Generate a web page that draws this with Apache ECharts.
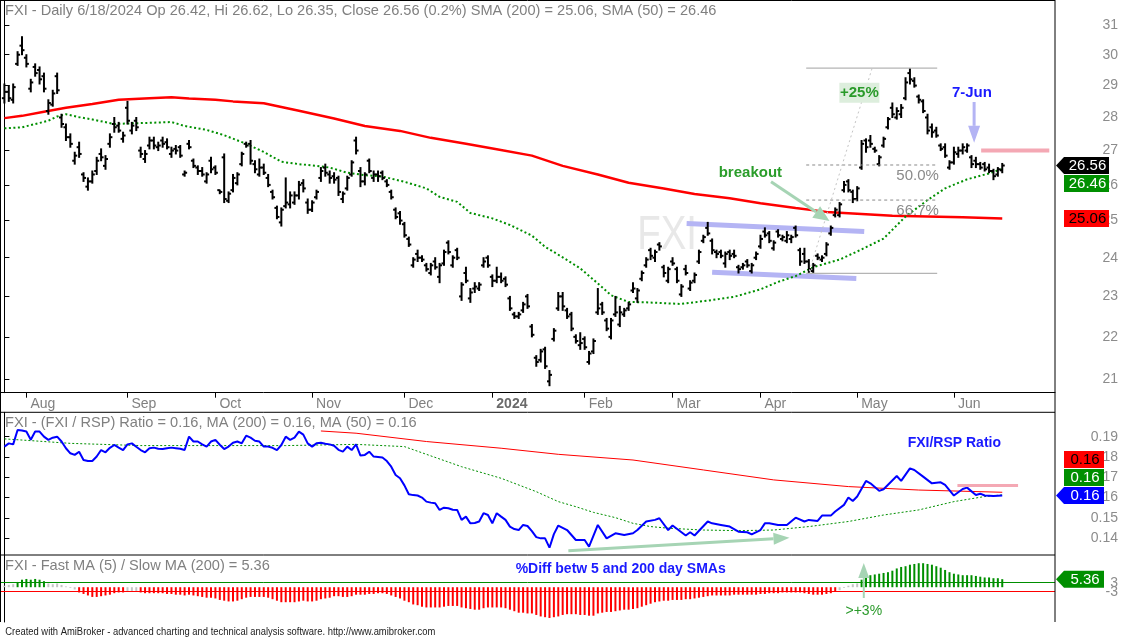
<!DOCTYPE html>
<html><head><meta charset="utf-8">
<script src="https://cdn.jsdelivr.net/npm/echarts@6/dist/echarts.min.js"></script>
<style>html,body{margin:0;padding:0;background:#fff}#c{width:1123px;height:637px}</style>
</head><body><div id="c"></div>
<script>
// ---------- DATA ----------
const monthTickIdx = [5,28,48,70,91,111,132,152,172,194,216];
const monthLabels  = ['Aug','Sep','Oct','Nov','Dec','2024','Feb','Mar','Apr','May','Jun'];
const priceTicks = [21,22,23,24,25,26,27,28,29,30,31];
const ratioTicks = [0.14,0.15,0.16,0.17,0.18,0.19];
const diffTicks  = [-3,0,3];

const highs = [29.05,29.0,29.05,30.1,30.6,30.0,29.2,29.7,29.6,29.4,
28.55,28.85,29.4,28.1,27.8,27.5,26.95,27.25,26.35,26.2,
26.4,26.8,27.05,26.85,27.5,28.0,27.85,27.55,28.5,27.85,
28.0,27.1,27.0,27.4,27.4,27.25,27.4,27.35,27.1,27.15,
27.15,26.4,27.3,26.75,26.55,26.5,26.35,26.8,26.55,25.85,
26.9,25.8,26.3,26.35,26.95,27.25,27.3,26.7,26.75,26.6,
26.3,25.85,25.4,25.35,26.2,25.8,25.8,26.1,26.15,25.6,
25.55,25.85,26.5,26.6,26.4,26.35,26.25,25.8,26.25,26.7,
27.4,26.5,26.35,26.75,26.4,26.4,26.4,26.15,25.85,25.35,
25.25,24.95,24.55,24.0,24.2,24.05,23.85,23.85,24.0,23.85,
24.2,24.45,24.05,24.25,23.35,23.75,23.2,23.35,23.35,24.0,
24.05,23.55,23.75,23.6,23.5,23.0,22.6,22.6,22.85,23.05,
22.3,21.55,21.7,21.75,21.2,22.2,23.1,23.1,22.7,22.6,
22.05,22.1,22.0,21.65,21.95,23.2,22.85,22.45,22.45,23.0,
22.75,22.7,22.85,23.35,23.2,23.65,24.0,24.25,24.2,24.4,
23.8,23.75,24.0,23.75,23.3,23.8,23.4,23.6,24.2,24.6,
24.95,24.5,24.2,24.2,24.15,24.2,24.2,23.8,23.85,23.95,
23.85,24.15,24.6,24.8,24.7,24.45,24.75,24.6,24.7,24.6,
24.85,24.25,24.25,23.95,23.85,24.1,24.05,24.4,24.85,25.35,
25.5,26.1,26.15,25.85,25.95,27.3,27.35,27.45,27.1,26.85,
27.4,28.0,28.45,28.3,28.4,29.25,29.55,29.25,28.7,28.55,
28.1,27.8,27.7,27.2,27.2,26.7,27.1,27.1,27.2,27.2,
26.85,26.8,26.65,26.65,26.6,26.45,26.5,26.62];
const lows = [28.45,28.5,28.45,29.65,30.0,29.6,28.8,29.3,29.05,28.8,
28.1,28.35,28.75,27.7,27.3,27.1,26.6,26.8,26.1,25.85,
26.05,26.3,26.7,26.45,27.1,27.55,27.55,27.25,27.8,27.5,
27.6,26.8,26.65,27.05,27.05,27.0,27.1,27.05,26.8,26.9,
26.8,26.25,27.05,26.5,26.3,26.25,26.05,26.35,26.3,25.75,
25.5,25.5,25.8,26.0,26.55,27.1,26.6,26.35,26.25,26.3,
25.95,25.6,25.05,24.85,25.35,25.35,25.45,25.6,25.8,25.2,
25.25,25.6,26.1,26.25,26.05,26.05,25.7,25.5,25.85,26.25,
26.9,25.95,26.0,26.35,26.1,26.1,26.15,25.95,25.6,25.05,
24.9,24.55,24.3,23.75,23.9,23.9,23.65,23.55,23.7,23.35,
23.8,24.1,23.75,23.95,22.9,23.35,22.85,23.1,23.15,23.75,
23.75,23.25,23.35,23.35,23.25,22.65,22.45,22.45,22.6,22.7,
22.0,21.3,21.4,21.25,20.85,21.9,22.65,22.65,22.45,22.15,
21.85,21.7,21.7,21.35,21.6,22.55,22.55,22.15,21.95,22.5,
22.25,22.5,22.65,23.1,22.85,23.4,23.75,23.95,23.9,24.2,
23.5,23.35,23.8,23.35,23.0,23.55,23.15,23.35,23.85,24.4,
24.6,24.1,24.0,24.0,23.75,23.95,24.0,23.6,23.7,23.75,
23.6,23.95,24.25,24.55,24.4,24.2,24.55,24.45,24.4,24.4,
24.55,23.8,23.85,23.6,23.6,23.95,23.9,24.05,24.6,25.1,
25.1,25.8,25.8,25.5,25.55,26.45,26.95,27.1,26.95,26.55,
27.1,27.65,28.0,27.95,28.0,28.55,29.05,28.95,28.45,28.15,
27.5,27.4,27.4,27.0,26.8,26.45,26.6,26.8,26.9,26.95,
26.5,26.5,26.45,26.4,26.35,26.15,26.25,26.35];
const opens = [28.6,28.8,28.55,29.7,30.3,29.9,28.9,29.6,29.5,29.3,
28.2,28.4,29.3,28.0,27.7,27.4,26.7,27.1,26.3,25.95,
26.1,26.4,26.9,26.55,27.2,27.8,27.75,27.35,28.3,27.6,
27.9,27.0,26.75,27.15,27.3,27.1,27.3,27.25,26.9,27.05,
27.1,26.3,27.2,26.7,26.5,26.4,26.1,26.7,26.5,25.85,
26.8,25.55,25.85,26.05,26.6,27.2,27.2,26.6,26.3,26.5,
26.2,25.8,25.35,24.95,25.4,25.45,25.5,25.7,26.05,25.5,
25.3,25.65,26.2,26.5,26.3,26.25,26.2,25.6,25.9,26.3,
27.3,26.4,26.1,26.7,26.2,26.3,26.35,26.1,25.8,25.3,
25.2,24.9,24.5,23.8,24.1,24.0,23.8,23.6,23.9,23.5,
23.85,24.4,23.8,24.2,23.0,23.6,22.95,23.2,23.2,23.8,
24.0,23.5,23.4,23.5,23.45,22.95,22.55,22.5,22.65,23.0,
22.25,21.5,21.45,21.7,20.95,21.95,22.7,23.0,22.65,22.55,
22.0,21.8,21.95,21.4,21.65,22.6,22.8,22.4,22.0,22.55,
22.3,22.55,22.7,23.15,22.95,23.45,23.8,24.2,24.0,24.35,
23.75,23.4,23.9,23.7,23.05,23.7,23.2,23.4,23.9,24.45,
24.8,24.45,24.15,24.15,23.85,24.15,24.1,23.75,23.75,23.9,
23.65,24.0,24.3,24.7,24.65,24.25,24.7,24.5,24.45,24.5,
24.8,24.2,24.1,23.9,23.65,24.05,23.95,24.1,24.65,25.15,
25.15,25.85,26.1,25.8,25.6,26.5,27.3,27.3,27.05,26.6,
27.15,27.7,28.3,28.0,28.1,28.6,29.4,29.15,28.65,28.5,
28.0,27.7,27.6,27.15,27.1,26.5,26.65,26.9,27.0,27.0,
26.8,26.7,26.6,26.6,26.5,26.4,26.3,26.42];
const closes = [28.8,28.6,28.95,30.0,30.15,29.7,29.1,29.4,29.2,28.9,
28.45,28.75,28.85,27.8,27.4,27.2,26.85,26.9,26.2,26.1,
26.3,26.7,26.8,26.75,27.4,27.7,27.6,27.45,27.9,27.75,
27.7,26.9,26.9,27.3,27.15,27.15,27.2,27.1,27.0,27.0,
26.85,26.35,27.1,26.55,26.4,26.3,26.3,26.45,26.35,25.8,
25.6,25.75,26.2,26.3,26.9,27.15,26.7,26.45,26.5,26.35,
26.0,25.65,25.1,25.3,25.5,25.7,25.7,26.0,25.9,25.3,
25.5,25.8,26.4,26.35,26.2,26.15,25.8,25.75,26.2,26.65,
27.0,26.1,26.3,26.4,26.3,26.25,26.2,26.0,25.65,25.1,
25.0,24.6,24.35,23.95,24.0,23.95,23.7,23.8,23.75,23.8,
24.15,24.15,24.0,24.0,23.3,23.4,23.1,23.25,23.3,23.9,
23.8,23.4,23.5,23.4,23.3,22.7,22.5,22.55,22.8,22.75,
22.05,21.4,21.65,21.3,21.1,22.15,23.0,22.75,22.5,22.2,
21.9,21.85,21.75,21.6,21.9,22.7,22.6,22.2,22.4,22.6,
22.6,22.65,22.8,23.2,23.15,23.6,23.95,24.05,24.15,24.3,
23.6,23.7,23.85,23.4,23.25,23.6,23.35,23.55,24.15,24.55,
24.65,24.2,24.1,24.05,24.1,24.05,24.05,23.7,23.8,23.8,
23.8,24.1,24.5,24.6,24.45,24.4,24.6,24.55,24.6,24.55,
24.6,23.9,23.9,23.7,23.8,24.0,24.0,24.35,24.8,25.3,
25.45,26.0,25.85,25.6,25.9,27.2,27.1,27.2,27.0,26.8,
27.35,27.95,28.1,28.2,28.3,29.1,29.2,29.0,28.55,28.2,
27.6,27.55,27.45,27.05,26.85,26.65,26.95,27.0,27.1,27.15,
26.6,26.6,26.5,26.45,26.4,26.25,26.45,26.56];

const sma200 = [[0,27.98],[4,28.05],[9,28.18],[14,28.30],[20,28.42],[26,28.55],[33,28.60],[38,28.63],[42,28.59],[48,28.55],[52,28.50],[59,28.44],[67,28.21],[75,27.97],[82,27.74],[90,27.59],[97,27.38],[105,27.20],[112,27.04],[120,26.85],[127,26.55],[135,26.30],[142,26.06],[150,25.90],[157,25.74],[165,25.62],[172,25.48],[180,25.35],[187,25.24],[195,25.18],[202,25.13],[210,25.11],[218,25.09],[227,25.06]];
const sma50 = [[0,27.67],[4,27.70],[7,27.80],[10,27.90],[12,28.03],[14,28.10],[17,28.01],[20,27.94],[25,27.80],[29,27.82],[34,27.84],[38,27.86],[41,27.74],[46,27.62],[50,27.46],[55,27.20],[59,26.96],[63,26.67],[67,26.60],[71,26.55],[74,26.50],[78,26.35],[82,26.28],[86,26.24],[91,26.09],[96,25.90],[99,25.66],[103,25.52],[106,25.21],[111,25.06],[115,24.88],[120,24.59],[123,24.29],[127,24.01],[131,23.72],[135,23.33],[138,23.03],[142,22.86],[146,22.85],[154,22.81],[161,22.91],[166,22.99],[172,23.18],[176,23.37],[180,23.52],[184,23.75],[190,23.95],[195,24.22],[200,24.51],[205,25.11],[210,25.57],[214,25.90],[219,26.16],[224,26.33],[227,26.46]];

const ratio = [[0,0.1851],[1,0.1867],[2,0.1862],[3,0.1933],[4,0.1930],[5,0.1925],[6,0.1885],[7,0.1925],[8,0.1925],[9,0.1900],[10,0.1884],[11,0.1895],[12,0.1900],[13,0.1876],[14,0.1843],[15,0.1818],[16,0.1810],[17,0.1826],[18,0.1785],[19,0.1780],[20,0.1780],[21,0.1802],[22,0.1834],[23,0.1823],[24,0.1845],[25,0.1859],[26,0.1846],[27,0.1834],[28,0.1862],[29,0.1867],[30,0.1850],[31,0.1834],[32,0.1823],[33,0.1843],[34,0.1846],[35,0.1840],[36,0.1839],[37,0.1843],[38,0.1846],[39,0.1843],[40,0.1840],[41,0.1834],[42,0.1900],[43,0.1876],[44,0.1876],[45,0.1862],[46,0.1851],[47,0.1876],[48,0.1884],[49,0.1860],[50,0.1839],[51,0.1851],[52,0.1870],[53,0.1876],[54,0.1867],[55,0.1905],[56,0.1895],[57,0.1880],[58,0.1876],[59,0.1851],[60,0.1851],[61,0.1845],[62,0.1834],[63,0.1859],[64,0.1900],[65,0.1884],[66,0.1895],[67,0.1925],[68,0.1910],[69,0.1867],[70,0.1851],[71,0.1867],[72,0.1870],[73,0.1865],[74,0.1862],[75,0.1855],[76,0.1835],[77,0.1826],[78,0.1851],[79,0.1834],[80,0.1862],[81,0.1807],[82,0.1810],[83,0.1826],[84,0.1802],[85,0.1800],[86,0.1797],[87,0.1780],[88,0.1752],[89,0.1711],[90,0.1695],[91,0.1660],[92,0.1616],[93,0.1612],[94,0.1610],[95,0.1600],[96,0.1580],[97,0.1575],[98,0.1572],[99,0.1539],[100,0.1550],[101,0.1547],[102,0.1540],[103,0.1539],[104,0.1490],[105,0.1506],[106,0.1473],[107,0.1475],[108,0.1482],[109,0.1523],[110,0.1514],[111,0.1473],[112,0.1523],[113,0.1506],[114,0.1490],[115,0.1457],[116,0.1445],[117,0.1440],[118,0.1465],[119,0.1460],[120,0.1435],[121,0.1405],[122,0.1399],[123,0.1399],[124,0.1353],[125,0.1420],[126,0.1462],[128,0.1440],[130,0.1391],[132,0.1391],[133,0.1358],[135,0.1465],[137,0.1399],[139,0.1424],[141,0.1416],[143,0.1424],[144,0.1440],[146,0.1482],[148,0.1490],[149,0.1498],[151,0.1440],[152,0.1462],[155,0.1413],[156,0.1429],[157,0.1413],[160,0.1482],[161,0.1473],[163,0.1465],[165,0.1457],[167,0.1432],[169,0.1429],[170,0.1419],[172,0.1440],[173,0.1473],[174,0.1473],[176,0.1465],[178,0.1465],[180,0.1501],[182,0.1482],[183,0.1490],[185,0.1485],[186,0.1511],[188,0.1511],[189,0.1531],[191,0.1564],[192,0.1600],[193,0.1583],[194,0.1605],[196,0.1682],[197,0.1670],[199,0.1633],[200,0.1641],[203,0.1706],[204,0.1682],[206,0.1744],[207,0.1736],[209,0.1703],[211,0.1670],[213,0.1675],[214,0.1662],[216,0.1610],[217,0.1626],[218,0.1642],[219,0.1649],[221,0.1613],[222,0.1619],[223,0.1610],[225,0.1608],[227,0.1610]];
const ratioMA200 = [[72,0.1928],[80,0.1917],[96,0.1876],[113,0.1843],[126,0.1813],[143,0.1785],[159,0.1736],[175,0.1687],[192,0.1654],[208,0.1637],[227,0.1626]];
const ratioMA50 = [[0,0.1889],[7,0.1879],[15,0.1867],[31,0.1856],[48,0.1856],[64,0.1856],[80,0.1862],[91,0.1851],[96,0.1813],[104,0.1752],[113,0.1695],[121,0.1629],[126,0.1580],[130,0.1555],[134,0.1527],[139,0.1501],[143,0.1473],[147,0.1457],[151,0.1449],[159,0.1440],[167,0.1437],[175,0.1440],[183,0.1457],[192,0.1482],[200,0.1514],[208,0.1539],[216,0.1580],[223,0.1605],[227,0.1613]];

const pctDiff = [1,1.5,2,3.5,5,5.5,5,5.5,5,4,
2.5,2,2.5,1.5,0.5,-0.5,-1.5,-3.5,-4.5,-5.5,
-6.5,-6.5,-6,-5.5,-5,-4,-3.5,-3.5,-2.5,-2.5,
-2.8,-3.5,-4,-4,-4,-4,-4,-4.5,-4.5,-5,
-5,-5.5,-5,-5.5,-6,-6.5,-7,-7,-7.5,-8.5,
-9,-9.5,-9.5,-9,-8,-7,-6.5,-6.5,-6.5,-6.5,
-7,-8,-9,-10,-10,-10,-10,-9.5,-9,-9.5,
-9.5,-9,-8,-7.5,-7,-6,-6,-6.5,-6.5,-6,
-5,-5,-5,-4.5,-4.5,-4,-4,-4.5,-5.5,-6.5,
-7.5,-9,-10,-11.5,-12,-13,-13.5,-13.5,-13.5,-13.5,
-13,-12.5,-12.5,-12.5,-13.5,-14,-14.5,-15,-15,-14,
-13.5,-13.5,-13.5,-13.5,-14,-15,-16,-17,-17,-17.5,
-17.5,-18.5,-19.5,-20,-20.5,-20,-19.5,-18.5,-18,-18,
-18,-18.5,-18.5,-19,-19,-17.5,-17,-16.5,-16.5,-16,
-15.5,-15,-15,-14.5,-14,-13,-12,-11,-10,-9.5,
-9,-9,-8.5,-8.5,-8.5,-8,-8,-7.5,-7,-6.5,
-6,-5.5,-5.5,-5.5,-5.5,-5.5,-5,-5,-5,-5,
-5,-5,-4.5,-4.5,-4,-4,-4,-3.5,-3.5,-3.5,
-3.5,-3.5,-4,-4.5,-5,-5,-5,-4.5,-4,-3.2,
-2,-0.5,1,2,2.5,5,7,8,8.5,9,
9.5,10,11,12.5,13.5,14,15,15.5,16,16,
15.5,15,14,13,11.5,10,9,8.5,8,8,
8,7.5,7,6.5,6.5,6,6,5.36];

// last values shown in badges / titles
const lastClose = 26.56, lastSma200 = 25.06, lastSma50 = 26.46;
const lastRatio = 0.1610, lastRatioMA200 = 0.1626, lastRatioMA50 = 0.1613, lastDiff = 5.36;

// ---------- CHART ----------
const FF = 'Liberation Sans, Arial, sans-serif';
const PLOT_R = 1055;
const chart = echarts.init(document.getElementById('c'));
const ohlc = opens.map((o,i)=>[i,o,highs[i],lows[i],closes[i]]);
const diffData = pctDiff.map((v,i)=>[i,v]);

function xAx(g, show){
  const a = {type:'value', gridIndex:g, min:-1, max:239, splitLine:{show:false}};
  if(!show){ a.show=false; return a; }
  a.axisLine={show:true,lineStyle:{color:'#000',width:1}};
  a.axisTick={show:true,customValues:monthTickIdx,length:5,lineStyle:{color:'#000'}};
  a.axisLabel={show:true,customValues:monthTickIdx,color:'#808080',fontSize:14,fontFamily:FF,align:'left',margin:4,padding:[0,0,0,4],hideOverlap:false,
    formatter:function(v){const k=monthTickIdx.indexOf(Math.round(v));const s=monthLabels[k];return s==='2024'?'{b|2024}':s;},
    rich:{b:{fontWeight:'bold',color:'#6a6a6a',fontSize:14,fontFamily:FF}}};
  return a;
}
function yAx(g, type, min, max, ticks, fmt){
  return {type:type, gridIndex:g, position:'right', min:min, max:max, logBase:10, scale:true,
    axisLine:{show:true,lineStyle:{color:'#000'}},
    axisTick:{show:true,customValues:ticks,length:5,lineStyle:{color:'#000'}},
    axisLabel:{show:true,customValues:ticks,color:'#8c8c8c',fontSize:14,fontFamily:FF,align:'right',margin:63,formatter:fmt,
      hideOverlap:false,showMinLabel:true,showMaxLabel:true},
    splitLine:{show:false}};
}

chart.setOption({
  animation:false,
  backgroundColor:'#fff',
  grid:[
    {left:0,right:1123-PLOT_R,top:0,height:392.7},
    {left:0,right:1123-PLOT_R,top:412.3,height:142.7},
    {left:0,right:1123-PLOT_R,top:555,height:67}
  ],
  xAxis:[xAx(0,true),xAx(1,false),xAx(2,false)],
  yAxis:[
    yAx(0,'log',20.69,31.86,priceTicks,v=>String(Math.round(v))),
    yAx(1,'value',0.1317,0.2020,ratioTicks,v=>v.toFixed(2)),
    yAx(2,'value',-23.2,21.47,diffTicks,v=>String(Math.round(v)))
  ],
  series:[
    {type:'line',xAxisIndex:0,yAxisIndex:0,data:sma200,showSymbol:false,z:3,lineStyle:{color:'#ff0000',width:2.5}},
    {type:'line',xAxisIndex:0,yAxisIndex:0,data:sma50,showSymbol:false,z:3,lineStyle:{color:'#008f00',width:2,type:[2,2.5]}},
    {type:'custom',xAxisIndex:0,yAxisIndex:0,data:ohlc,z:4,encode:{x:0,y:[1,2,3,4]},
      renderItem:function(params,api){
        const x=api.value(0);
        const pO=api.coord([x,api.value(1)]),pH=api.coord([x,api.value(2)]),pL=api.coord([x,api.value(3)]),pC=api.coord([x,api.value(4)]);
        const st={stroke:'#000',lineWidth:2};
        return {type:'group',children:[
          {type:'line',shape:{x1:pH[0],y1:pH[1]-0.5,x2:pL[0],y2:pL[1]+0.5},style:st},
          {type:'line',shape:{x1:pO[0]-2.5,y1:pO[1],x2:pO[0],y2:pO[1]},style:st},
          {type:'line',shape:{x1:pC[0],y1:pC[1],x2:pC[0]+2.5,y2:pC[1]},style:st}
        ]};
      }},
    {type:'line',xAxisIndex:1,yAxisIndex:1,data:ratioMA200,showSymbol:false,lineStyle:{color:'#ff0000',width:1}},
    {type:'line',xAxisIndex:1,yAxisIndex:1,data:ratioMA50,showSymbol:false,lineStyle:{color:'#008f00',width:1,type:[2,2]}},
    {type:'line',xAxisIndex:1,yAxisIndex:1,data:ratio,showSymbol:false,z:4,lineStyle:{color:'#0000ff',width:2}},
    {type:'bar',xAxisIndex:2,yAxisIndex:2,data:diffData,barWidth:2,
      itemStyle:{color:function(p){const v=p.value[1];return v>3?'#008f00':(v<-3?'#ff0000':'#c4c4c4');}},
      markLine:{silent:true,symbol:'none',label:{show:false},
        data:[{yAxis:3,lineStyle:{color:'#008f00',width:1,type:'solid'}},{yAxis:-3,lineStyle:{color:'#ff0000',width:1,type:'solid'}}]}}
  ]
});

// ---------- ANNOTATIONS (positioned through the chart's own scales) ----------
function px(g,x,y){return chart.convertToPixel({xAxisIndex:g,yAxisIndex:g},[x,y]);}
function pyv(g,y){return chart.convertToPixel({yAxisIndex:g},y);}
const G=[];
function line(g,a,b,color,w,dash,z){const p=px(g,a[0],a[1]),q=px(g,b[0],b[1]);
  G.push({type:'line',z:z||5,silent:true,shape:{x1:p[0],y1:p[1],x2:q[0],y2:q[1]},style:{stroke:color,lineWidth:w,lineDash:dash||null}});}
function arrow(g,a,b,color,w,L,W){const p=px(g,a[0],a[1]),q=px(g,b[0],b[1]);
  const dx=q[0]-p[0],dy=q[1]-p[1],len=Math.hypot(dx,dy),ux=dx/len,uy=dy/len;
  const bx=q[0]-ux*L,by=q[1]-uy*L;
  G.push({type:'line',z:6,silent:true,shape:{x1:p[0],y1:p[1],x2:bx,y2:by},style:{stroke:color,lineWidth:w}});
  G.push({type:'polygon',z:6,silent:true,shape:{points:[[q[0],q[1]],[bx-uy*W/2,by+ux*W/2],[bx+uy*W/2,by-ux*W/2]]},style:{fill:color}});}
function text(g,x,y,s,color,size,weight,align,z){const p=px(g,x,y);
  G.push({type:'text',z:z||8,silent:true,x:p[0],y:p[1],style:{text:s,fill:color,fontSize:size,fontWeight:weight||'normal',fontFamily:FF,align:align||'center',verticalAlign:'middle'}});}

// price panel
G.push({type:'text',z:1,silent:true,x:531,y:236,scaleX:0.8,originX:531,originY:236,style:{text:'FXI',fill:'#e8e8e8',fontSize:48,fontFamily:FF,align:'left',verticalAlign:'middle'}});
line(0,[155.2,24.92],[195.6,24.70],'#b4b4f4',5,null,2);
line(0,[161,23.62],[193.8,23.46],'#b4b4f4',5,null,2);
line(0,[182.4,29.56],[212.2,29.56],'#b4b4b4',1.2);
line(0,[182.4,23.59],[212.2,23.59],'#b4b4b4',1.2);
line(0,[182.4,26.575],[212.2,26.575],'#8a8a8a',1,[3,3]);
line(0,[182.4,25.57],[212.2,25.57],'#8a8a8a',1,[3,3]);
line(0,[183.1,23.65],[197.4,29.56],'#c4c4c4',1,[2,3]);
(function(){const p=px(0,194.5,28.77);
  G.push({type:'rect',z:7,silent:true,shape:{x:p[0]-20,y:p[1]-10,width:40,height:20},style:{fill:'#ddeedd'}});})();
text(0,194.5,28.77,'+25%','#2a9a2a',15,'bold');
arrow(0,[174.4,26.09],[187.7,24.99],'#a6d4b4',3,16,14);
text(0,169.7,26.35,'breakout','#2a9d2a',15,'bold');
arrow(0,[220.6,28.48],[220.6,27.23],'#b4b4f4',3,17,12);
text(0,220.1,28.78,'7-Jun','#1a1aff',15,'bold');
text(0,202.9,26.26,'50.0%','#8a8a8a',15,'normal','left');
text(0,202.9,25.27,'66.7%','#8a8a8a',15,'normal','left');
line(0,[222.2,27.0],[237.7,27.0],'#f4a8b4',4);

// ratio panel
text(1,216.1,0.1869,'FXI/RSP Ratio','#1a1aff',14,'bold');
line(1,[216.8,0.1659],[230.6,0.1659],'#f4a8b4',3);
arrow(1,[128.3,0.1338],[178.6,0.1402],'#a6d4b4',3,16,12);

// diff panel
text(2,116.3,12.1,'%Diff betw 5 and 200 day SMAs','#1a1aff',14,'bold','left');
arrow(2,[195.5,-7.2],[195.5,16.1],'#a6d4b4',2,15,11);
text(2,195.5,-15.9,'>+3%','#2a9a2a',14,'normal');

// frames
const fr={stroke:'#000',lineWidth:1};
[[0.5,0,0.5,622],[PLOT_R,0,PLOT_R,622],[0,0.5,PLOT_R,0.5],[0,412.3,PLOT_R,412.3],[0,555,PLOT_R,555]].forEach(function(l){
  G.push({type:'line',z:9,silent:true,shape:{x1:l[0],y1:l[1],x2:l[2],y2:l[3]},style:fr});});

// titles
const TS=14.6;
const gS={color:'#808080',fontSize:TS,fontFamily:FF};
function rt(x,y,str,rich){G.push({type:'text',z:10,silent:true,x:x,y:y,style:{text:str,rich:rich,fontSize:TS,fontFamily:FF,fill:'#808080',verticalAlign:'middle'}});}
const rich={g:gS,r:{color:'#ff0000',fontSize:TS,fontFamily:FF},gr:{color:'#009900',fontSize:TS,fontFamily:FF},b:{color:'#0000ff',fontSize:TS,fontFamily:FF}};
rt(5,11,'{g|FXI - Daily 6/18/2024 Op 26.42, Hi 26.62, Lo 26.35, Close '+lastClose.toFixed(2)+' (0.2%) }{r|SMA (200)}{g| = '+lastSma200.toFixed(2)+', }{gr|SMA (50)}{g| = '+lastSma50.toFixed(2)+'}',rich);
rt(5,422.5,'{g|FXI - }{b|(FXI / RSP) Ratio}{g| = '+lastRatio.toFixed(2)+', }{r|MA (200)}{g| = '+lastRatioMA200.toFixed(2)+', }{gr|MA (50)}{g| = '+lastRatioMA50.toFixed(2)+'}',rich);
rt(5,566,'{g|FXI - }{gr|Fast MA (5) / Slow MA (200)}{g| = '+lastDiff.toFixed(2)+'}',rich);
G.push({type:'text',z:10,silent:true,x:5,y:632,scaleX:0.94,originX:5,originY:632,style:{text:'Created with AmiBroker - advanced charting and technical analysis software. http://www.amibroker.com',fill:'#222',fontSize:10,fontFamily:FF,verticalAlign:'middle'}});

// badges
function badge(cy,label,bg,fg,ptr,right){
  const x0=1064,x1=right||1109,h=17;
  if(ptr){G.push({type:'polygon',z:20,silent:true,shape:{points:[[PLOT_R+1,cy],[x0,cy-h/2],[x1,cy-h/2],[x1,cy+h/2],[x0,cy+h/2]]},style:{fill:bg}});}
  else{G.push({type:'rect',z:20,silent:true,shape:{x:x0,y:cy-h/2,width:x1-x0,height:h},style:{fill:bg}});}
  G.push({type:'text',z:21,silent:true,x:(x0+x1)/2+1,y:cy+0.5,style:{text:label,fill:fg,fontSize:15,fontFamily:FF,align:'center',verticalAlign:'middle'}});
}
const yC=pyv(0,lastClose);
badge(yC,lastClose.toFixed(2),'#000','#fff',true);
badge(yC+18,lastSma50.toFixed(2),'#008f00','#fff',false);
badge(pyv(0,lastSma200),lastSma200.toFixed(2),'#ff0000','#000',false);
const yR=pyv(1,lastRatio);
badge(yR,lastRatio.toFixed(2),'#0000ff','#fff',true,1104);
badge(yR-18,lastRatioMA50.toFixed(2),'#008f00','#fff',false,1104);
badge(yR-36,lastRatioMA200.toFixed(2),'#ff0000','#000',false,1104);
badge(pyv(2,lastDiff),lastDiff.toFixed(2),'#008f00','#fff',true,1104);

chart.setOption({graphic:{elements:G}});
</script></body></html>
